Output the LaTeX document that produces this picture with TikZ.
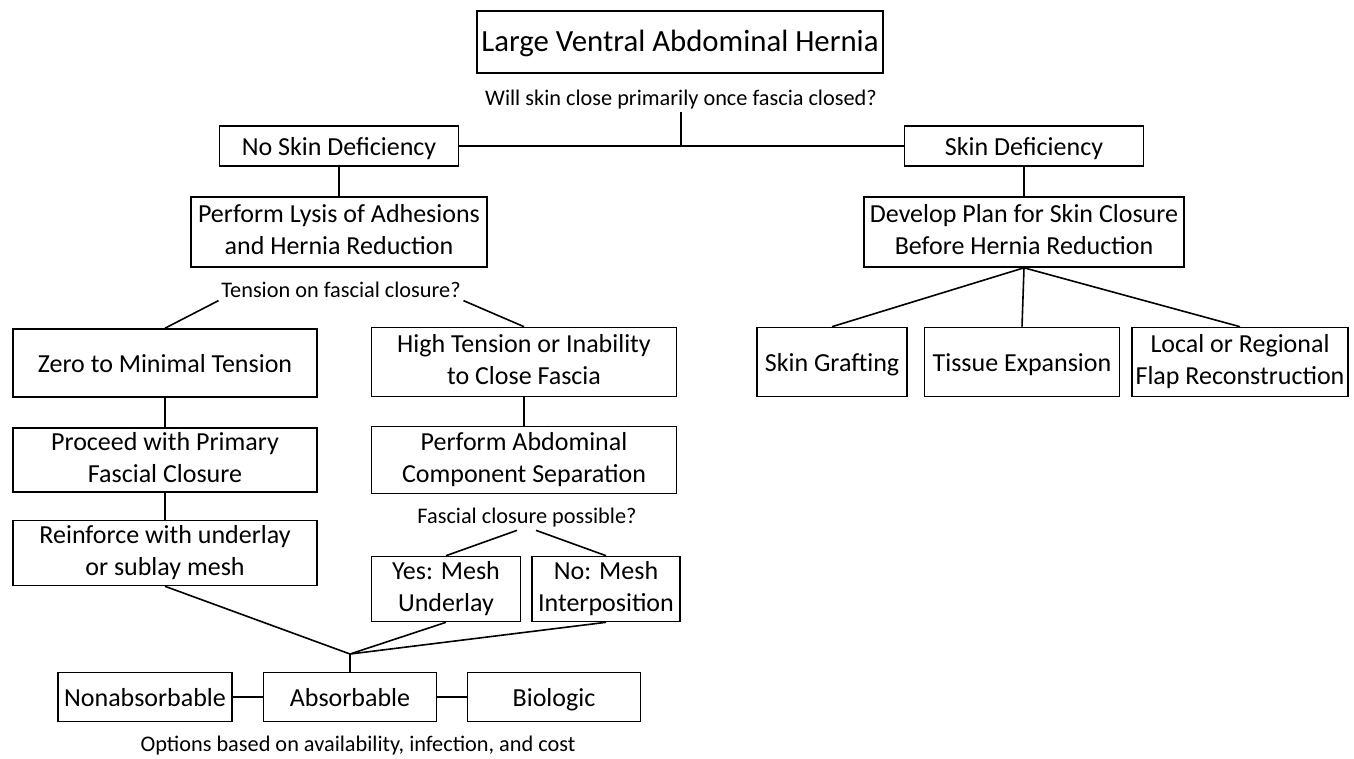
\documentclass[tikz,border=0pt]{standalone}
\usepackage{fontspec}
\setmainfont{Carlito}
\usepackage{tikz}
\newcommand\boxstrut{\rule[-5.2pt]{0pt}{29.2pt}}

\begin{document}
\begin{tikzpicture}
            [x=1pt,y=-1pt,line width=1.6pt,
             box/.style={draw,inner sep=0pt,align=center,font=\fontsize{26}{31.5}\selectfont,
                         execute at begin node={\boxstrut},execute at end node={\boxstrut}},
             ask/.style={inner sep=2pt,align=center,font=\fontsize{22.3}{26}\selectfont}]
            \useasboundingbox (0,0) rectangle (1354,758);
            \node[box,minimum width=406pt,minimum height=62pt,font=\fontsize{30.8}{36}\selectfont] (1) at (680,42) {Large Ventral Abdominal Hernia};
            \node[ask] (a) at (681,100) {Will skin close primarily once fascia closed?};
            \node[box,minimum width=239pt,minimum height=40pt] (2) at (339,146) {No Skin Deficiency};
            \node[box,minimum width=239pt,minimum height=40pt] (3) at (1024,146) {Skin Deficiency};
            \node[box,minimum width=296pt,minimum height=70pt] (4) at (339,232) {Perform Lysis of Adhesions\\and Hernia Reduction};
            \node[box,minimum width=320pt,minimum height=70pt] (5) at (1024,232) {Develop Plan for Skin Closure\\Before Hernia Reduction};
            \node[ask] (b) at (341,290) {Tension on fascial closure?};
            \node[box,minimum width=304pt,minimum height=68pt] (6) at (165,363) {Zero to Minimal Tension};
            \node[box,minimum width=305pt,minimum height=69pt] (7) at (524,362) {High Tension or Inability\\to Close Fascia};
            \node[box,minimum width=304pt,minimum height=64pt] (8) at (165,460) {Proceed with Primary\\Fascial Closure};
            \node[box,minimum width=305pt,minimum height=67pt] (9) at (524,460) {Perform Abdominal\\Component Separation};
            \node[ask] (c) at (527,518) {Fascial closure possible?};
            \node[box,minimum width=304pt,minimum height=65pt] (10) at (165,553) {Reinforce with underlay\\or sublay mesh};
            \node[box,minimum width=149pt,minimum height=65pt] (11) at (446,589) {Yes: Mesh\\Underlay};
            \node[box,minimum width=148pt,minimum height=65pt] (12) at (606,589) {No: Mesh\\Interposition};
            \node[box,minimum width=174pt,minimum height=49pt] (13) at (145,697) {Nonabsorbable};
            \node[box,minimum width=173pt,minimum height=49pt] (14) at (350,697) {Absorbable};
            \node[box,minimum width=173pt,minimum height=49pt] (15) at (554,697) {Biologic};
            \node[ask] (d) at (358,746) {Options based on availability, infection, and cost};
            \node[box,minimum width=150pt,minimum height=69pt] (16) at (832,362) {Skin Grafting};
            \node[box,minimum width=195pt,minimum height=69pt] (17) at (1022,362) {Tissue Expansion};
            \node[box,minimum width=216pt,minimum height=69pt] (18) at (1240,362) {Local or Regional\\Flap Reconstruction};
            \coordinate (m) at (350,654);
            % skin question
            \draw (a) -- (a |- 2.east);
            \draw (2) -- (3);
            \draw (2) -- (4);
            \draw (3) -- (5);
            % skin closure plans
            \draw (5.south) -- (16.north);
            \draw (5.south) -- (17.north);
            \draw (5.south) -- (18.north);
            % fascia
            \draw (b.south west) -- (6.north);
            \draw (b.south east) -- (7.north);
            \draw (6) -- (8);
            \draw (8) -- (10);
            \draw (7) -- (9);
            \draw ([xshift=-10pt]c.south) -- (11.north);
            \draw ([xshift=9pt]c.south) -- (12.north);
            % mesh
            \draw (10.south) -- (m);
            \draw (11.south) -- (m);
            \draw (12.south) -- (m);
            \draw (m) -- (14.north);
            \draw (13) -- (14);
            \draw (14) -- (15);
        \end{tikzpicture}
\end{document}
